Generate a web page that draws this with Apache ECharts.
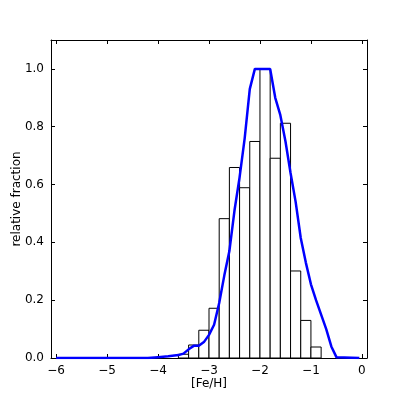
<!DOCTYPE html>
<html>
<head>
<meta charset="utf-8">
<script src="https://cdn.jsdelivr.net/npm/echarts@6/dist/echarts.min.js"></script>
<style>
html, body { margin: 0; padding: 0; background: #fff; }
#main { width: 407px; height: 398px; }
</style>
</head>
<body>
<div id="main"></div>
<script>
// histogram bins (left edge, width 0.2) and relative heights
var binStart = [-3.6, -3.4, -3.2, -3.0, -2.8, -2.6, -2.4, -2.2, -2.0, -1.8, -1.6, -1.4, -1.2, -1.0];
var binWidth = 0.2;
var binHeight = [0.013, 0.045, 0.096, 0.172, 0.482, 0.659, 0.589, 0.749, 1.0, 0.691, 0.812, 0.301, 0.130, 0.038];

// smoothed distribution (blue curve)
var curveX = [-6.0, -4.2, -4.0, -3.8, -3.6, -3.5, -3.4, -3.3, -3.2, -3.1, -3.0, -2.9, -2.8, -2.7, -2.6, -2.5, -2.4, -2.3, -2.2, -2.1, -1.8, -1.7, -1.6, -1.5, -1.4, -1.3, -1.2, -1.1, -1.0, -0.9, -0.8, -0.7, -0.6, -0.5, -0.05];
var curveY = [0, 0, 0.003, 0.006, 0.01, 0.015, 0.03, 0.042, 0.042, 0.055, 0.08, 0.115, 0.19, 0.285, 0.37, 0.51, 0.625, 0.76, 0.93, 1.0, 1.0, 0.9, 0.84, 0.75, 0.64, 0.54, 0.415, 0.33, 0.255, 0.2, 0.15, 0.1, 0.04, 0.003, 0];

var xTicks = [-6, -5, -4, -3, -2, -1, 0];
var font = 'DejaVu Sans';

var bars = [];
for (var i = 0; i < binStart.length; i++) {
	bars.push([binStart[i], binStart[i] + binWidth, binHeight[i]]);
}
var curve = [];
for (var j = 0; j < curveX.length; j++) {
	curve.push([curveX[j], curveY[j]]);
}

function fmtX(v) {
	return v < 0 ? '\u2212' + Math.abs(v) : String(v);
}

var tick = { show: true, inside: true, length: 4, lineStyle: { color: '#000', width: 1 } };

var baseX = {
	type: 'value', min: -6.1, max: 0.1,
	axisLine: { show: true, onZero: false, lineStyle: { color: '#000', width: 1 } },
	splitLine: { show: false }
};
var baseY = {
	type: 'value', min: 0, max: 1.1, interval: 0.2,
	axisLine: { show: true, onZero: false, lineStyle: { color: '#000', width: 1 } },
	splitLine: { show: false }
};

var option = {
	animation: false,
	grid: { left: 51, right: 40, top: 40, bottom: 40 },
	xAxis: [
		Object.assign({}, baseX, {
			position: 'bottom',
			name: '[Fe/H]', nameLocation: 'middle', nameGap: 20, nameMoveOverlap: false,
			nameTextStyle: { fontFamily: font, fontSize: 12, color: '#000' },
			axisTick: Object.assign({}, tick, { customValues: xTicks }),
			axisLabel: { fontFamily: font, fontSize: 12, color: '#000', margin: 7, customValues: xTicks, formatter: fmtX }
		}),
		Object.assign({}, baseX, {
			position: 'top',
			axisTick: Object.assign({}, tick, { customValues: xTicks }),
			axisLabel: { show: false }
		})
	],
	yAxis: [
		Object.assign({}, baseY, {
			position: 'left',
			name: 'relative fraction', nameLocation: 'middle', nameGap: 28, nameMoveOverlap: false,
			nameTextStyle: { fontFamily: font, fontSize: 12, color: '#000' },
			axisTick: tick,
			axisLabel: { fontFamily: font, fontSize: 12, color: '#000', margin: 7, showMaxLabel: false,
				formatter: function (v) { return v.toFixed(1); } }
		}),
		Object.assign({}, baseY, {
			position: 'right',
			axisTick: tick,
			axisLabel: { show: false }
		})
	],
	series: [
		{
			type: 'custom',
			data: bars,
			renderItem: function (params, api) {
				var p0 = api.coord([api.value(0), api.value(2)]);
				var p1 = api.coord([api.value(1), 0]);
				return {
					type: 'rect',
					shape: { x: p0[0], y: p0[1], width: p1[0] - p0[0], height: p1[1] - p0[1] },
					style: { fill: '#fff', stroke: '#000', lineWidth: 1 }
				};
			},
			z: 2
		},
		{
			type: 'line',
			data: curve,
			showSymbol: false,
			lineStyle: { color: '#0000ff', width: 2.5 },
			z: 3
		}
	]
};

var chart = echarts.init(document.getElementById('main'));
chart.setOption(option);
</script>
</body>
</html>
